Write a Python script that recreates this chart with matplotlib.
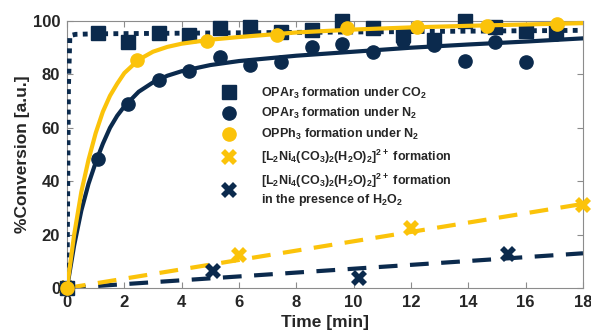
import matplotlib
matplotlib.use('Agg')
from matplotlib import pyplot as plt
from matplotlib import font_manager

plt.rcParams['font.family'] = ['Liberation Sans', 'DejaVu Sans']
plt.rcParams['font.weight'] = 'bold'
plt.rcParams['axes.labelweight'] = 'bold'

# bold face for the mathtext parts (sub/superscripts)
bold_pat = None
for pat in ['Liberation Sans:weight=bold', 'Liberation Sans:bold']:
    f = font_manager.findfont(pat, fallback_to_default=False)
    if 'bold' in f.lower():
        bold_pat = f
        break
if bold_pat is not None:
    plt.rcParams['mathtext.fontset'] = 'custom'
    plt.rcParams['mathtext.rm'] = 'Liberation Sans:weight=bold'
    plt.rcParams['mathtext.it'] = 'Liberation Sans:weight=bold'
    plt.rcParams['mathtext.bf'] = 'Liberation Sans:weight=bold'
    plt.rcParams['mathtext.default'] = 'bf'

navy = '#0b2a4d'
gold = '#fbc30a'
txt = '#262626'

# OPAr3 under CO2 (squares)
t_sq = [0, 1.07, 2.13, 3.2, 4.27, 5.33, 6.4, 7.47, 8.53, 9.6, 10.67, 11.73, 12.8, 13.87, 14.93, 16.0, 17.07]
v_sq = [0, 95.5, 92.0, 95.5, 94.8, 97.4, 97.8, 95.9, 96.6, 100.0, 97.2, 94.8, 92.9, 100.0, 97.8, 96.3, 95.9]

# OPAr3 under N2 (navy circles)
t_ci = [0, 1.07, 2.13, 3.2, 4.27, 5.33, 6.4, 7.47, 8.53, 9.6, 10.67, 11.73, 12.8, 13.87, 14.93, 16.0, 17.07]
v_ci = [0, 48.3, 68.9, 77.9, 81.3, 86.5, 83.5, 84.6, 90.3, 91.4, 88.4, 92.5, 91.0, 85.2, 92.0, 84.8, 95.0]

# OPPh3 under N2 (gold circles)
t_yc = [0, 2.44, 4.88, 7.32, 9.76, 12.2, 14.64, 17.08]
v_yc = [0, 85.4, 92.5, 94.8, 97.4, 97.8, 98.1, 98.9]

# [L2Ni4(CO3)2(H2O)2]2+ formation
t_yx = [0, 6.0, 12.0, 18.0]
v_yx = [0, 12.4, 22.5, 31.0]

# ... in the presence of H2O2
t_nx = [0, 5.1, 10.2, 15.4]
v_nx = [0, 6.4, 3.7, 12.7]

# fit curves
t_fit = [0, 0.25, 0.5, 0.75, 1, 1.25, 1.5, 1.75, 2, 2.5, 3, 3.5, 4, 5, 6, 8, 10, 12, 14, 16, 18]
fit_ci = [0, 16, 29, 39, 47, 54, 60, 64.5, 68, 73.5, 77, 79.5, 81.2, 83.5, 85, 87, 88.5, 90, 91.2, 92.3, 93.5]
fit_yc = [0, 20, 36, 48, 58, 66, 72, 76.5, 80.5, 85.5, 88.5, 90.3, 91.5, 93, 94, 95.7, 96.8, 97.6, 98.2, 98.7, 99.2]
t_fit_sq = [0, 0.05, 0.1, 0.3, 1, 18]
fit_sq = [0, 75, 94.5, 95, 95.2, 96.5]
t_lin = [0, 18]
lin_yx = [0, 31.5]
lin_nx = [0, 13.0]

if bold_pat is not None:
    cplx = r'[L_2Ni_4(CO_3)_2(H_2O)_2]^{2+}\ formation'
    labels = [r'$OPAr_3\ formation\ under\ CO_2$',
              r'$OPAr_3\ formation\ under\ N_2$',
              r'$OPPh_3\ formation\ under\ N_2$',
              '$' + cplx + '$',
              '$' + cplx + '$\n' + r'$in\ the\ presence\ of\ H_2O_2$']
    htp = 2.0
else:
    labels = ['OPAr₃ formation under CO₂',
              'OPAr₃ formation under N₂',
              'OPPh₃ formation under N₂',
              '[L₂Ni₄(CO₃)₂(H₂O)₂]²⁺ formation',
              '[L₂Ni₄(CO₃)₂(H₂O)₂]²⁺ formation\nin the presence of H₂O₂']
    htp = 1.42

fig = plt.figure(figsize=(5.91, 3.32), dpi=100)
ax = fig.add_axes([67 / 591, 1 - 288 / 332, 516 / 591, 267 / 332])

dash = (0, (4.5, 3))
ax.plot(t_lin, lin_nx, color=navy, lw=3, linestyle=dash, zorder=2)
ax.plot(t_lin, lin_yx, color=gold, lw=3, linestyle=dash, zorder=2)
ax.plot(t_nx, v_nx, 'X', color=navy, ms=12, mew=0, clip_on=False, zorder=3, label=labels[4])
ax.plot(t_yx, v_yx, 'X', color=gold, ms=12, mew=0, clip_on=False, zorder=3, label=labels[3])

ax.plot(t_fit_sq, fit_sq, color=navy, lw=3.5, linestyle=(0, (1, 1.1)), zorder=4)
ax.plot(t_sq, v_sq, 's', color=navy, ms=9.5, clip_on=False, zorder=5, label=labels[0])
ax.plot(t_ci, v_ci, 'o', color=navy, ms=9.5, clip_on=False, zorder=6, label=labels[1])
ax.plot(t_fit, fit_ci, color=navy, lw=3, zorder=6)
ax.plot(t_fit, fit_yc, color=gold, lw=3, zorder=7)
ax.plot(t_yc, v_yc, 'o', color=gold, ms=9.5, clip_on=False, zorder=8, label=labels[2])

ax.set_xlim(0, 18)
ax.set_ylim(0, 100)
ax.set_xticks(range(0, 19, 2))
ax.set_yticks(range(0, 101, 20))
ax.tick_params(direction='in', top=True, right=True, length=4, width=0.8,
               color='#8c8c8c', labelsize=12, labelcolor=txt, pad=5)
for lab in ax.get_xticklabels() + ax.get_yticklabels():
    lab.set_fontweight('bold')
for s in ax.spines.values():
    s.set_color('#8c8c8c')
    s.set_linewidth(0.8)

ax.set_xlabel('Time [min]', fontsize=12.5, fontweight='bold', color=txt, labelpad=4)
ax.set_ylabel('%Conversion [a.u.]', fontsize=12.5, fontweight='bold', color=txt, labelpad=2)

h, l = ax.get_legend_handles_labels()
hd = dict(zip(l, h))
leg = ax.legend([hd[x] for x in labels], labels, loc='upper left', bbox_to_anchor=(0.277, 0.80),
                frameon=False, handletextpad=htp, labelspacing=0.45,
                handlelength=1.2, labelcolor=txt, prop={'weight': 'bold', 'size': 9.0})
for t in leg.get_texts():
    t.set_fontweight('bold')

fig.savefig('out.png', dpi=100)
